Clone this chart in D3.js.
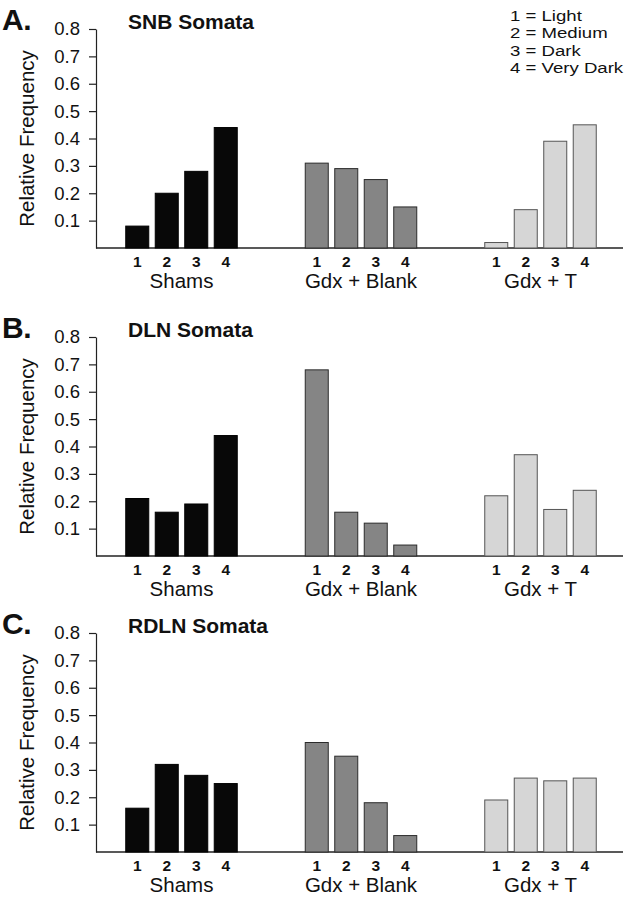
<!DOCTYPE html>
<html>
<head>
<meta charset="utf-8">
<script src="https://cdn.jsdelivr.net/npm/d3@7"></script>
<style>
  html, body { margin: 0; padding: 0; background: #fff; }
  svg { display: block; }
  text { font-family: "Liberation Sans", Arial, Helvetica, sans-serif; fill: #111; }
</style>
</head>
<body>
<div id="chart"></div>
<script>
// ---------- data ----------
const groups = ["Shams", "Gdx + Blank", "Gdx + T"];
const levels = ["1", "2", "3", "4"];
const panelLetters = ["A.", "B.", "C."];
const panelTitles = ["SNB Somata", "DLN Somata", "RDLN Somata"];
const yTicks = [0.1, 0.2, 0.3, 0.4, 0.5, 0.6, 0.7, 0.8];
const legendLabels = ["1 = Light", "2 = Medium", "3 = Dark", "4 = Very Dark"];

// relative frequency for levels 1-4, per group
const snbShams = [0.08, 0.20, 0.28, 0.44];
const snbBlank = [0.31, 0.29, 0.25, 0.15];
const snbT     = [0.02, 0.14, 0.39, 0.45];

const dlnShams = [0.21, 0.16, 0.19, 0.44];
const dlnBlank = [0.68, 0.16, 0.12, 0.04];
const dlnT     = [0.22, 0.37, 0.17, 0.24];

const rdlnShams = [0.16, 0.32, 0.28, 0.25];
const rdlnBlank = [0.40, 0.35, 0.18, 0.06];
const rdlnT     = [0.19, 0.27, 0.26, 0.27];

const panelValues = [
  [snbShams, snbBlank, snbT],
  [dlnShams, dlnBlank, dlnT],
  [rdlnShams, rdlnBlank, rdlnT]
];

// ---------- layout ----------
const W = 638, H = 900;
const axisX = 96, axisRight = 623;
const panelTops = [29, 337, 633];
const plotH = 219;
const groupFill = ["#080808", "#858585", "#d6d6d6"];
const groupStroke = ["#000", "#2b2b2b", "#555"];

const svg = d3.select("#chart").append("svg").attr("width", W).attr("height", H);

const xGroup = d3.scalePoint().domain(groups).range([181.5, 540.5]);
const xBar = d3.scaleBand().domain(levels).range([-55.75, 55.75]).paddingInner(0.22);
const y = d3.scaleLinear().domain([0, 0.8]).range([plotH, 0]);

panelValues.forEach((vals, pi) => {
  const g = svg.append("g").attr("transform", `translate(0,${panelTops[pi]})`);

  // panel letter
  g.append("text").attr("x", 2).attr("y", 1)
    .attr("font-size", 30).attr("font-weight", "bold")
    .style("letter-spacing", "-0.5px")
    .text(panelLetters[pi]);

  // title
  g.append("text").attr("x", 128).attr("y", 0)
    .attr("font-size", 21).attr("font-weight", "bold")
    .text(panelTitles[pi]);

  // y axis
  const yAxis = d3.axisLeft(y).tickValues(yTicks).tickSize(7).tickPadding(9)
    .tickFormat(d3.format(".1f")).tickSizeOuter(0);
  const ya = g.append("g").attr("transform", `translate(${axisX},0)`).call(yAxis);
  ya.select(".domain").attr("stroke", "#222").attr("stroke-width", 1.2);
  ya.selectAll(".tick line").attr("stroke", "#222").attr("stroke-width", 1.2);
  ya.selectAll(".tick text").attr("font-size", 18.5).attr("fill", "#111")
    .attr("font-family", "'Liberation Sans', Arial, sans-serif");

  // y label
  g.append("text")
    .attr("transform", `translate(34,${plotH / 2}) rotate(-90)`)
    .attr("text-anchor", "middle")
    .attr("font-size", 20.5)
    .text("Relative Frequency");

  // x baseline
  g.append("line")
    .attr("x1", axisX).attr("x2", axisRight)
    .attr("y1", y(0)).attr("y2", y(0))
    .attr("stroke", "#222").attr("stroke-width", 1.4);

  // bars
  groups.forEach((grp, gi) => {
    const gg = g.append("g").attr("transform", `translate(${xGroup(grp)},0)`);
    gg.selectAll("rect").data(vals[gi]).join("rect")
      .attr("x", (d, i) => xBar(levels[i]))
      .attr("width", xBar.bandwidth())
      .attr("y", d => y(d))
      .attr("height", d => y(0) - y(d))
      .attr("fill", groupFill[gi])
      .attr("stroke", groupStroke[gi])
      .attr("stroke-width", 1);

    gg.selectAll("text.lvl").data(levels).join("text")
      .attr("class", "lvl")
      .attr("x", d => xBar(d) + xBar.bandwidth() / 2)
      .attr("y", y(0) + 19)
      .attr("text-anchor", "middle")
      .attr("font-size", 15.5).attr("font-weight", "bold")
      .text(d => d);

    gg.append("text")
      .attr("x", 0).attr("y", y(0) + 40)
      .attr("text-anchor", "middle")
      .attr("font-size", 20.5)
      .text(grp);
  });
});

// legend (tightly stacked, horizontally widened like the original typesetting)
svg.append("g").attr("transform", "translate(510,0) scale(1.2,1)")
  .selectAll("text").data(legendLabels).join("text")
  .attr("x", 0)
  .attr("y", (d, i) => 21 + i * 17.5)
  .attr("font-size", 15.5)
  .text(d => d);
</script>
</body>
</html>
